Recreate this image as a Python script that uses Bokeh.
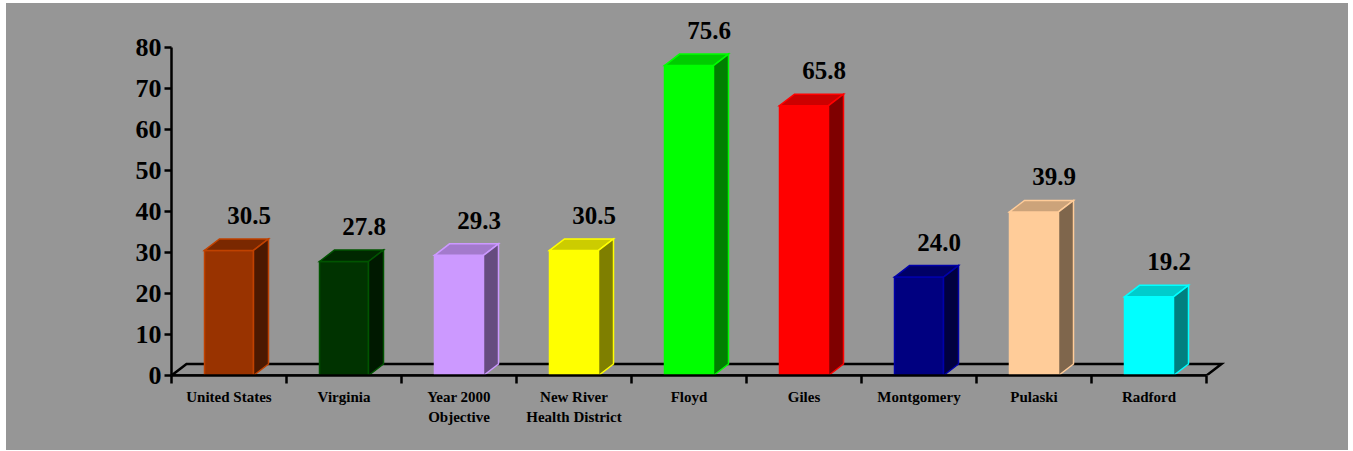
from bokeh.plotting import figure
from bokeh.models import FixedTicker, Range1d
from bokeh.core.properties import value
from bokeh.embed import file_html
from bokeh.resources import INLINE

# Data
categories = ["United States", "Virginia", "Year 2000\nObjective",
              "New River\nHealth District", "Floyd", "Giles",
              "Montgomery", "Pulaski", "Radford"]
rates = [30.5, 27.8, 29.3, 30.5, 75.6, 65.8, 24.0, 39.9, 19.2]
y_ticks = [0, 10, 20, 30, 40, 50, 60, 70, 80]

# Styling
face_colors = ["#993300", "#003300", "#cc99ff", "#ffff00", "#00ff00",
               "#ff0000", "#000080", "#ffcc99", "#00ffff"]
edge_colors = ["#c04200", "#005400", "#cc99ff", "#ffff00", "#00ff00",
               "#ff0000", "#0000aa", "#ffcc99", "#00ffff"]
GRAY = "#969696"
FLOOR = "#929292"
FONT = value("Liberation Serif")


def shade(hex_color, f):
    h = hex_color.lstrip("#")
    r, g, b = (int(h[i:i + 2], 16) for i in (0, 2, 4))
    return "#%02x%02x%02x" % (int(r * f), int(g * f), int(b * f))


# Pixel scale of the plotting frame (px per data unit)
PX_X = 115.0
PX_Y = 4.1
FRAME_W = 1070
FRAME_H = 361
DX = 15 / PX_X      # depth offset, horizontal
DY = 11.5 / PX_Y    # depth offset, vertical
BAR_W = 49 / PX_X

n = len(categories)
centers = [i + 0.5 for i in range(n)]

p = figure(width=1342, height=447, margin=(3, 5, 1, 6),
           x_range=Range1d(0, FRAME_W / PX_X),
           y_range=Range1d(0, FRAME_H / PX_Y),
           output_backend="svg", toolbar_location=None,
           min_border_left=165, min_border_right=1342 - 165 - FRAME_W,
           min_border_top=447 - 75 - FRAME_H, min_border_bottom=75,
           background_fill_color=None, border_fill_color=None,
           outline_line_color=None,
           styles={"background-color": GRAY})
p.xgrid.grid_line_color = None
p.ygrid.grid_line_color = None

# Floor of the 3-D box
p.patch([0, DX, n + DX, n], [0, DY, DY, 0], fill_color=FLOOR,
        line_color="black", line_width=2.5, line_join="miter")

# Bars: front face, top face and right side face
fronts_l = [c - BAR_W / 2 for c in centers]
fronts_r = [c + BAR_W / 2 for c in centers]
p.quad(left=fronts_l, right=fronts_r, bottom=0, top=rates,
       fill_color=face_colors, line_color=edge_colors, line_width=1.5,
       line_join="miter")

top_xs = [[l, l + DX, r + DX, r] for l, r in zip(fronts_l, fronts_r)]
top_ys = [[v, v + DY, v + DY, v] for v in rates]
p.patches(top_xs, top_ys, fill_color=[shade(c, 0.8) for c in face_colors],
          line_color=edge_colors, line_width=1.5, line_join="miter")

side_xs = [[r, r + DX, r + DX, r] for r in fronts_r]
side_ys = [[0, DY, v + DY, v] for v in rates]
p.patches(side_xs, side_ys, fill_color=[shade(c, 0.5) for c in face_colors],
          line_color=edge_colors, line_width=1.5, line_join="miter")

# Value labels above each bar
p.text(x=centers, y=rates, text=["%.1f" % v for v in rates],
       x_offset=20, y_offset=-35, text_align="center",
       text_baseline="alphabetic", text_font=FONT, text_font_style="bold",
       text_font_size="25px", text_color="black")

# Value axis
ya = p.yaxis[0]
ya.ticker = FixedTicker(ticks=y_ticks)
ya.bounds = (0, 80)
ya.axis_line_width = 2.5
ya.axis_line_color = "black"
ya.major_tick_line_width = 2.5
ya.major_tick_out = 7
ya.major_tick_in = 0
ya.minor_tick_line_color = None
ya.major_label_standoff = 3
ya.major_label_text_font = "Liberation Serif"
ya.major_label_text_font_style = "bold"
ya.major_label_text_font_size = "26px"
ya.major_label_text_color = "black"

# Category axis: labels at centres, tick marks at boundaries
xa = p.xaxis[0]
xa.ticker = FixedTicker(ticks=centers, minor_ticks=list(range(n + 1)))
xa.bounds = (0, n)
xa.axis_line_width = 2.5
xa.axis_line_color = "black"
xa.major_tick_out = 0
xa.major_tick_in = 0
xa.major_tick_line_color = None
xa.minor_tick_out = 8
xa.minor_tick_in = 0
xa.minor_tick_line_width = 2.5
xa.minor_tick_line_color = "black"
xa.major_label_overrides = {c: name for c, name in zip(centers, categories)}
xa.major_label_standoff = 5
xa.major_label_text_font = "Liberation Serif"
xa.major_label_text_font_style = "bold"
xa.major_label_text_font_size = "15px"
xa.major_label_text_line_height = 1.25
xa.major_label_text_color = "black"

open("out.html", "w").write(file_html(p, INLINE))
